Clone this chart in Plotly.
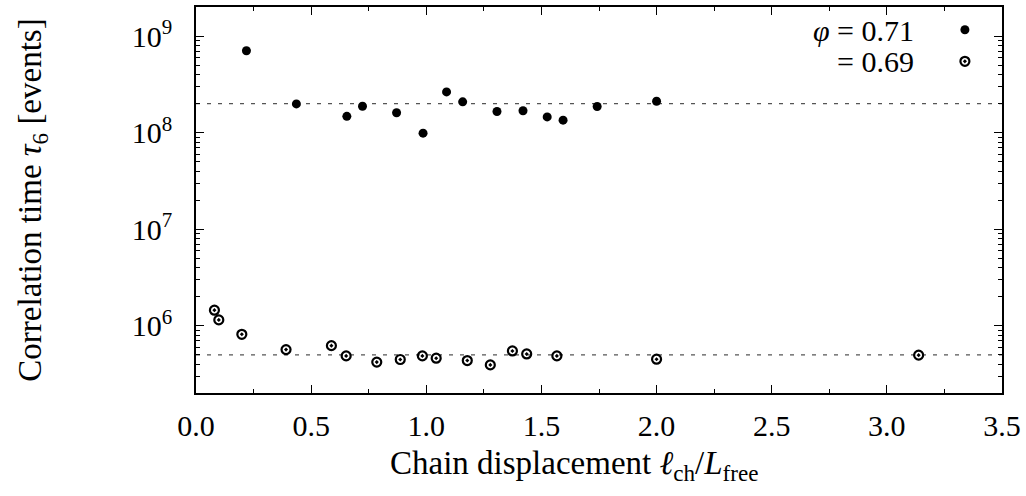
import plotly.graph_objects as go

# phi = 0.71 (filled)
x_071 = [0.219, 0.436, 0.655, 0.723, 0.871, 0.986, 1.088, 1.158, 1.307, 1.420, 1.525, 1.594, 1.742, 2.0]
tau_071 = [7.07e8, 1.99e8, 1.48e8, 1.88e8, 1.61e8, 0.99e8, 2.65e8, 2.09e8, 1.66e8, 1.69e8, 1.46e8, 1.35e8, 1.87e8, 2.12e8]

# phi = 0.69 (open)
x_069 = [0.080, 0.099, 0.199, 0.391, 0.588, 0.652, 0.785, 0.887, 0.983, 1.043, 1.178, 1.278, 1.374, 1.436, 1.567, 2.0, 3.138]
tau_069 = [1.45e6, 1.15e6, 8.15e5, 5.66e5, 6.22e5, 4.87e5, 4.20e5, 4.47e5, 4.87e5, 4.61e5, 4.36e5, 3.93e5, 5.48e5, 5.10e5, 4.87e5, 4.50e5, 4.96e5]

# reference (plateau) levels
plateau_x = [0.0, 3.5]
plateau_071 = 2.0e8
plateau_069 = 5.0e5

legend_labels = ["<i>φ</i> = 0.71", "= 0.69"]
y_tickvals = [1e6, 1e7, 1e8, 1e9]
y_ticktext = ["10<sup>6</sup>", "10<sup>7</sup>", "10<sup>8</sup>", "10<sup>9</sup>"]
x_tickvals = [0.0, 0.5, 1.0, 1.5, 2.0, 2.5, 3.0, 3.5]
x_ticktext = ["0.0", "0.5", "1.0", "1.5", "2.0", "2.5", "3.0", "3.5"]

FONT = "Liberation Serif"

fig = go.Figure()
for lvl in (plateau_071, plateau_069):
    fig.add_trace(go.Scatter(x=plateau_x, y=[lvl, lvl], mode="lines",
                             line=dict(color="#555555", width=1.2, dash="4px,7px"),
                             showlegend=False, hoverinfo="skip"))

fig.add_trace(go.Scatter(x=x_071, y=tau_071, mode="markers", name="",
                         marker=dict(symbol="circle", size=9, color="black",
                                     line=dict(width=0))))
fig.add_trace(go.Scatter(x=x_069, y=tau_069, mode="markers", name="",
                         marker=dict(symbol="circle-open-dot", size=9, color="black",
                                     line=dict(width=2.2, color="black"))))

for i, lab in enumerate(legend_labels):
    fig.add_annotation(text=lab, xref="paper", yref="paper",
                       x=0.893, y=0.94 - i * 0.081, xanchor="right", yanchor="middle",
                       showarrow=False, font=dict(family=FONT, size=30, color="black"))

fig.update_layout(
    width=1026, height=496,
    margin=dict(l=196, r=24, t=5, b=103),
    template="simple_white",
    plot_bgcolor="white", paper_bgcolor="white",
    font=dict(family=FONT, size=30, color="black"),
    showlegend=True,
    legend=dict(x=0.985, y=0.995, xanchor="right", yanchor="top",
                bgcolor="rgba(0,0,0,0)", font=dict(family=FONT, size=22), itemwidth=30,
                tracegroupgap=0),
)

fig.update_xaxes(
    range=[0, 3.5], tickvals=x_tickvals, ticktext=x_ticktext,
    showgrid=False, zeroline=False,
    showline=True, linecolor="black", linewidth=1.5, mirror="allticks",
    ticks="inside", ticklen=8, tickwidth=1.2, tickcolor="black",
    minor=dict(dtick=0.25, ticks="inside", ticklen=4, tickwidth=1, tickcolor="black", showgrid=False),
    ticklabelstandoff=5,
    tickfont=dict(family=FONT, size=30, color="black"),
    title=dict(text="Chain displacement <i>ℓ</i><sub>ch</sub>/<i>L</i><sub>free</sub>" + "&nbsp;" * 6,
               font=dict(family=FONT, size=33, color="black"), standoff=10),
)

fig.update_yaxes(
    type="log", range=[5.303, 9.303],
    tickvals=y_tickvals, ticktext=y_ticktext,
    showgrid=False, zeroline=False,
    showline=True, linecolor="black", linewidth=1.5, mirror="allticks",
    ticks="inside", ticklen=8, tickwidth=1.2, tickcolor="black",
    minor=dict(ticks="inside", ticklen=4, tickwidth=1, tickcolor="black", showgrid=False,
               tickvals=[m * 10 ** e for e in range(5, 10) for m in range(2, 10)]),
    ticklabelstandoff=16,
    tickfont=dict(family=FONT, size=30, color="black"),
    title=dict(text="Correlation time <i>τ</i><sub>6</sub> [events]",
               font=dict(family=FONT, size=33, color="black"), standoff=80),
)

fig.write_html("out.html")
